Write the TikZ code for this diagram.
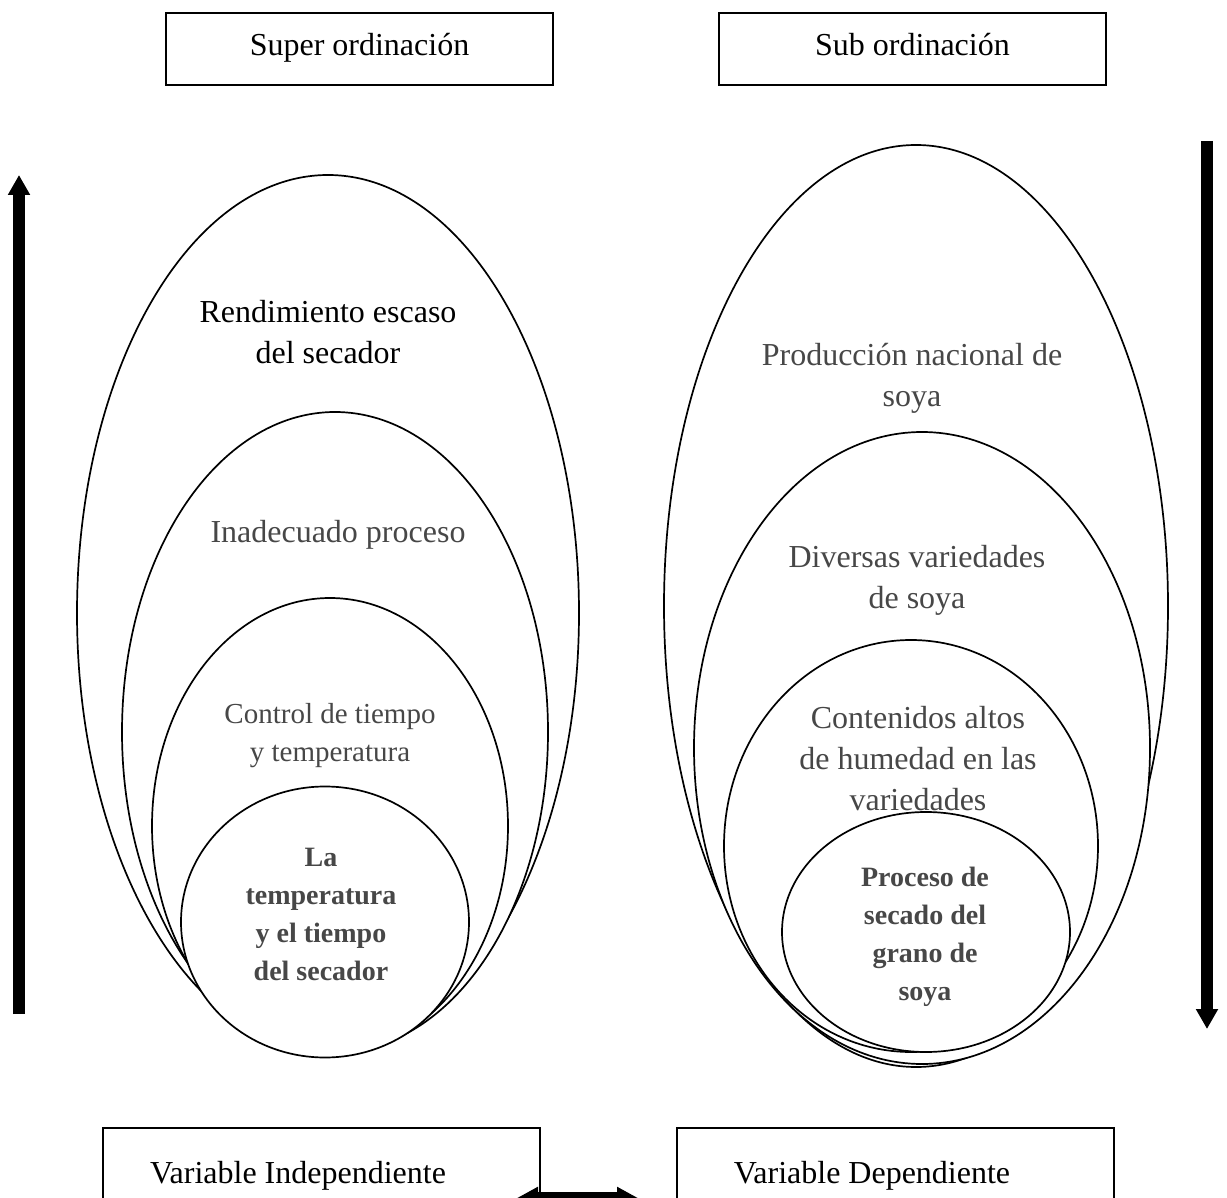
\documentclass[tikz,border=0pt]{standalone}
\usepackage{fontspec}
\setmainfont{Liberation Serif}
\usetikzlibrary{shapes.geometric,arrows.meta}
\definecolor{txtgray}{HTML}{474747}

\tikzset{
	ring/.style={ellipse, draw, line width=1.7pt, fill=white, inner sep=0pt},
	box/.style={rectangle, draw, line width=1.7pt, inner sep=0pt},
	boxtxt/.style={font=\fontsize{32}{38}\selectfont, text height=22pt, text depth=7pt},
	lbl/.style={align=center, text=txtgray, font=\fontsize{32}{41}\selectfont},
	core/.style={align=center, text=txtgray, font=\fontsize{28}{38}\selectfont\bfseries},
	bigarrow/.style={line width=12pt, -{Triangle[width=21pt,length=20pt]}},
}

\begin{document}
\begin{tikzpicture}[x=1pt, y=-1pt]
	\useasboundingbox (0,0) rectangle (1227,1198);
	\clip (0,0) rectangle (1227,1198);
	% Boxes:
	\node[box, minimum width=387pt, minimum height=72pt] (supBox) at (359.5,49) {};
	\node[box, minimum width=387pt, minimum height=72pt] (subBox) at (912.5,49) {};
	\node[box, minimum width=437pt, minimum height=86pt] (indBox) at (321.5,1171) {};
	\node[box, minimum width=437pt, minimum height=86pt] (depBox) at (895.5,1171) {};
	\node[boxtxt] (supTxt) at (359.5,48) {Super ordinación};
	\node[boxtxt] (subTxt) at (912.5,48) {Sub ordinación};
	\node[boxtxt] (indTxt) at (298,1176) {Variable Independiente};
	\node[boxtxt] (depTxt) at (872,1176) {Variable Dependiente};

	% Left ellipses:
	\node[ring, minimum width=502pt, minimum height=876pt] (supA) at (328,613) {};
	\node[ring, minimum width=426pt, minimum height=640pt] (supB) at (335,732) {};
	\node[ring, minimum width=356pt, minimum height=456pt] (supC) at (330,826) {};
	\node[ring, minimum width=288pt, minimum height=271pt] (supD) at (325,922) {};
	\node[lbl, text=black] (rend) at (328,332) {Rendimiento escaso\\del secador};
	\node[lbl] (inad) at (338,535) {Inadecuado proceso};
	\node[lbl, font=\fontsize{29}{38}\selectfont] (ctrl) at (330,736) {Control de tiempo\\y temperatura};
	\node[core] (temp) at (321,914) {La\\temperatura\\y el tiempo\\del secador};

	% Right ellipses:
	\node[ring, minimum width=504pt, minimum height=922pt] (subA) at (916,606) {};
	\node[ring, minimum width=456pt, minimum height=632pt] (subB) at (922,748) {};
	\node[ring, minimum width=374pt, minimum height=412pt] (subC) at (911,846) {};
	\node[ring, minimum width=288pt, minimum height=240pt] (subD) at (926,932) {};
	\node[lbl] (prod) at (912,378) {Producción nacional de\\soya};
	\node[lbl] (dive) at (917,580) {Diversas variedades\\de soya};
	\node[lbl] (cont) at (918,759) {Contenidos altos\\de humedad en las\\variedades};
	\node[core] (seca) at (925,937) {Proceso de\\secado del\\grano de\\soya};

	% Arrows:
	\coordinate (upFoot) at (19,1014);
	\coordinate (upTip) at (19,175);
	\coordinate (downFoot) at (1207,141);
	\coordinate (downTip) at (1207,1029);
	\coordinate (linkL) at (504,1205);
	\coordinate (linkR) at (651,1205);
	\draw[bigarrow] (upFoot) -- (upTip);
	\draw[bigarrow] (downFoot) -- (downTip);
	\draw[line width=26pt, {Triangle[width=34pt,length=34pt]}-{Triangle[width=34pt,length=34pt]}] (linkL) -- (linkR);
\end{tikzpicture}
\end{document}
